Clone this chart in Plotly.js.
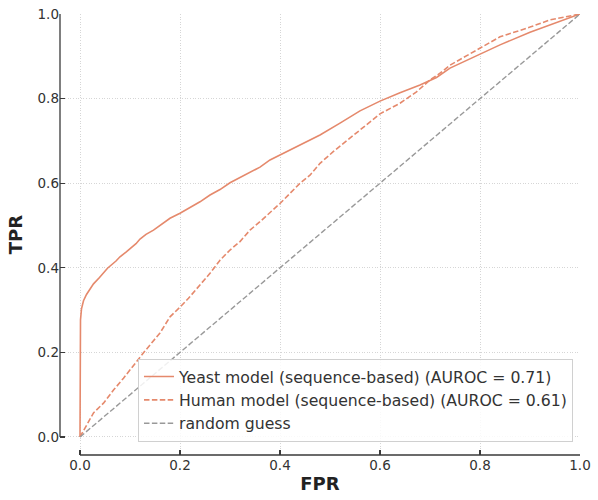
<!DOCTYPE html>
<html>
<head>
<meta charset="utf-8">
<script src="https://cdn.plot.ly/plotly-3.0.1.min.js"></script>
<style>
  html, body { margin: 0; padding: 0; background: #fff; }
  #chart { width: 598px; height: 500px; }
</style>
</head>
<body>
<div id="chart"></div>
<script>
// ROC curve of the yeast-trained model
const yeastFpr = [0, 0, 0.001, 0.003, 0.007, 0.013, 0.019, 0.027, 0.039, 0.055, 0.072, 0.08,
  0.092, 0.112, 0.12, 0.132, 0.147, 0.165, 0.18, 0.2, 0.24, 0.26, 0.28, 0.3, 0.34, 0.36, 0.38,
  0.4, 0.44, 0.48, 0.52, 0.56, 0.6, 0.64, 0.68, 0.713, 0.74, 0.8, 0.84, 0.9, 0.94, 1];
const yeastTpr = [0, 0.25, 0.277, 0.303, 0.322, 0.337, 0.348, 0.362, 0.377, 0.399, 0.416, 0.426,
  0.437, 0.457, 0.468, 0.479, 0.489, 0.505, 0.517, 0.529, 0.556, 0.572, 0.585, 0.601, 0.627,
  0.638, 0.655, 0.667, 0.69, 0.714, 0.742, 0.771, 0.794, 0.814, 0.832, 0.85, 0.872, 0.906,
  0.927, 0.957, 0.974, 1];

// ROC curve of the human-trained model
const humanFpr = [0, 0.027, 0.047, 0.067, 0.087, 0.107, 0.127, 0.16, 0.18, 0.2, 0.217, 0.26,
  0.28, 0.3, 0.32, 0.34, 0.36, 0.4, 0.427, 0.44, 0.46, 0.48, 0.507, 0.54, 0.573, 0.6, 0.64,
  0.673, 0.7, 0.72, 0.74, 0.8, 0.84, 0.9, 0.94, 1];
const humanTpr = [0, 0.057, 0.08, 0.111, 0.139, 0.17, 0.199, 0.246, 0.284, 0.307, 0.328, 0.387,
  0.418, 0.442, 0.462, 0.489, 0.509, 0.552, 0.584, 0.6, 0.619, 0.647, 0.675, 0.706, 0.738, 0.764,
  0.789, 0.816, 0.844, 0.86, 0.879, 0.92, 0.946, 0.969, 0.986, 1];

// chance diagonal
const randomFpr = [0, 1];
const randomTpr = [0, 1];

const seriesNames = [
  'Yeast model (sequence-based) (AUROC = 0.71)',
  'Human model (sequence-based) (AUROC = 0.61)',
  'random guess'
];
const tickVals = [0, 0.2, 0.4, 0.6, 0.8, 1.0];
const tickText = ['0.0', '0.2', '0.4', '0.6', '0.8', '1.0'];

const salmon = '#e5896c';
const grey = '#999999';
const dash = '5.5px,2.4px';
const font = 'DejaVu Sans, sans-serif';

const traces = [
  { x: yeastFpr, y: yeastTpr, name: seriesNames[0], mode: 'lines',
    line: { color: salmon, width: 1.6 } },
  { x: humanFpr, y: humanTpr, name: seriesNames[1], mode: 'lines',
    line: { color: salmon, width: 1.6, dash: dash } },
  { x: randomFpr, y: randomTpr, name: seriesNames[2], mode: 'lines',
    line: { color: grey, width: 1.4, dash: dash } }
];

const spine = { color: '#3a3a3a', width: 1.3 };
const gridStyle = { showgrid: true, gridcolor: '#d2d2d2', griddash: '1px,1.6px', gridwidth: 0.9 };
const layout = {
  width: 598, height: 500,
  margin: { l: 60, r: 18, t: 14, b: 45 },
  paper_bgcolor: '#fff', plot_bgcolor: '#fff',
  font: { family: font, color: '#333', size: 13 },
  showlegend: true,
  xaxis: Object.assign({
    range: [-0.04, 1], tickvals: tickVals, ticktext: tickText,
    ticks: 'inside', ticklen: 5, tickwidth: 1.2, tickcolor: '#3a3a3a',
    showline: false, zeroline: false,
    tickfont: { size: 13.5, color: '#333' },
    title: { text: '<b>FPR</b>', font: { size: 18, color: '#222' }, standoff: 5 },
    automargin: false, fixedrange: true
  }, gridStyle),
  yaxis: Object.assign({
    range: [-0.0426, 1], tickvals: tickVals, ticktext: tickText,
    ticks: 'inside', ticklen: 5, tickwidth: 1.2, tickcolor: '#3a3a3a',
    showline: false, zeroline: false,
    tickfont: { size: 13.5, color: '#333' },
    title: { text: '<b>TPR</b>', font: { size: 18, color: '#222' }, standoff: 10 },
    automargin: false, fixedrange: true
  }, gridStyle),
  shapes: [
    // trimmed bottom spine spanning the tick range
    { type: 'line', xref: 'x', yref: 'paper', x0: 0, x1: 1, y0: 0, y1: 0, line: spine, layer: 'above' },
    // trimmed left spine spanning the tick range
    { type: 'line', xref: 'paper', yref: 'y', x0: 0, x1: 0, y0: 0, y1: 1, line: spine, layer: 'above' }
  ],
  legend: {
    x: 0.9865, xanchor: 'right', y: 0.03, yanchor: 'bottom',
    bgcolor: 'rgba(255,255,255,0.85)', bordercolor: '#d0d0d0', borderwidth: 1,
    font: { size: 15.7, color: '#333' }, itemwidth: 30, tracegroupgap: 0
  }
};

Plotly.newPlot('chart', traces, layout, { displayModeBar: false, staticPlot: true });
</script>
</body>
</html>
